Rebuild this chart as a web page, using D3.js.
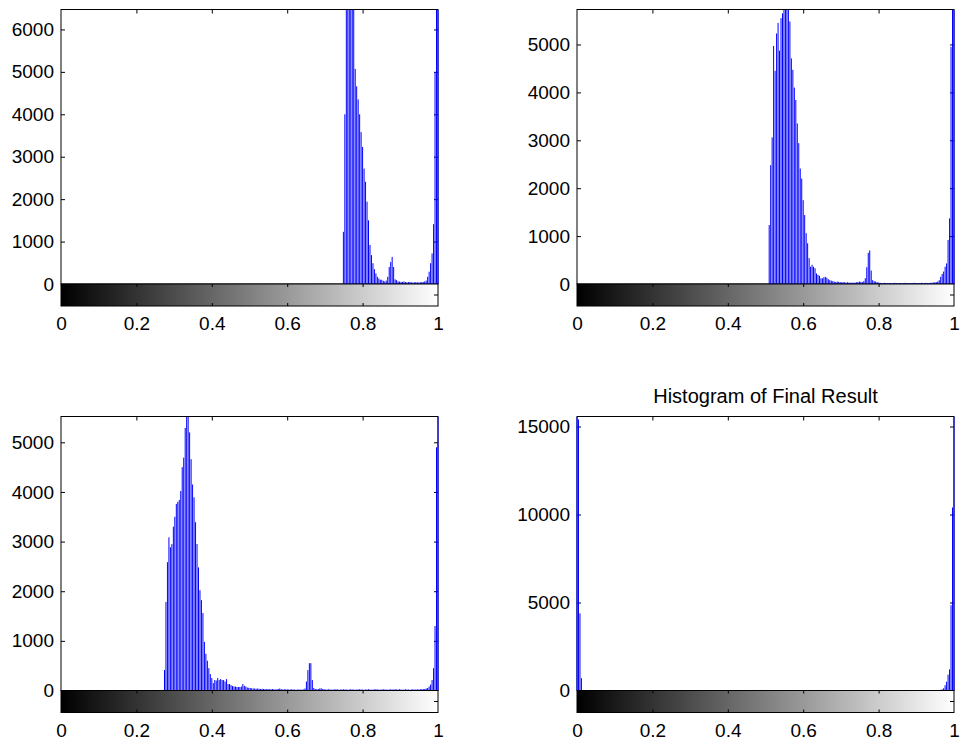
<!DOCTYPE html>
<html>
<head>
<meta charset="utf-8">
<script src="https://cdn.jsdelivr.net/npm/d3@7"></script>
<style>
  html, body { margin: 0; padding: 0; background: #fff; }
  svg { display: block; }
</style>
</head>
<body>
<div id="chart"></div>
<script>
/* Figure constants */
const WIDTH = 961
const HEIGHT = 744
const AX_W = 377
const CB_H = 22
const FONT = "'Liberation Sans', Arial, Helvetica, sans-serif"
const FONT_SIZE = 19
const TITLE_SIZE = 20
const STEM_COLOR = "#0000ff"

/* Histogram counts (256 bins over 0..1), only non-empty bins are listed */
const xTickValues = [0, 0.2, 0.4, 0.6, 0.8, 1]
const xTickLabels = ["0", "0.2", "0.4", "0.6", "0.8", "1"]

// top left
const startA = 191
const countsA = [1230, 4000, 7000, 8200, 7800, 7400, 6900, 6600, 5070, 4660,
  4350, 4000, 3580, 3230, 2720, 2410, 1940, 1500, 920, 680,
  490, 350, 250, 170, 130, 100, 100, 75, 60, 80,
  170, 400, 520, 640, 400, 110, 90, 60, 55, 50,
  50, 60, 45, 40, 45, 50, 40, 35, 40, 45,
  40, 35, 40, 45, 50, 60, 80, 170, 290, 490,
  720, 1410, 5000, 6800, 9000]
const yTicksA = [0, 1000, 2000, 3000, 4000, 5000, 6000]
const yMaxA = 6470

// top right
const startB = 130
const countsB = [1230, 2480, 3060, 4970, 4450, 5230, 5450, 4870, 5550, 5650,
  5800, 5900, 5800, 5750, 5480, 4710, 4470, 4100, 3840, 3350,
  2940, 2410, 2200, 1750, 1440, 1060, 850, 540, 360, 400,
  360, 330, 220, 190, 170, 120, 120, 140, 150, 130,
  100, 80, 70, 60, 50, 40, 50, 45, 40, 35,
  40, 35, 30, 35, 30, 25, 30, 25, 30, 35,
  40, 50, 45, 40, 60, 120, 350, 650, 700, 280,
  80, 60, 50, 40, 30, 25, 20, 20, 25, 20,
  15, 20, 20, 15, 20, 25, 20, 15, 20, 20,
  15, 20, 25, 20, 20, 15, 20, 20, 25, 20,
  15, 20, 20, 25, 20, 20, 25, 20, 20, 25,
  25, 30, 35, 40, 50, 80, 150, 210, 260, 360,
  430, 920, 1370, 4950, 5900, 8000]
const yTicksB = [0, 1000, 2000, 3000, 4000, 5000]
const yMaxB = 5730

// bottom left
const startC = 70
const countsC = [414, 1784, 2585, 3086, 2886, 2950, 3300, 3500, 3760, 3800,
  3840, 4020, 4500, 4690, 5290, 5550, 5550, 5200, 4660, 4150,
  3890, 3390, 2950, 2480, 2020, 1820, 1560, 980, 740, 600,
  450, 330, 250, 150, 210, 200, 250, 210, 230, 210,
  210, 180, 230, 130, 130, 110, 90, 80, 80, 70,
  70, 70, 80, 130, 95, 80, 60, 55, 50, 45,
  40, 40, 35, 40, 35, 30, 35, 30, 30, 25,
  30, 25, 25, 30, 25, 20, 25, 30, 40, 25,
  20, 25, 20, 25, 20, 20, 25, 20, 20, 15,
  20, 20, 15, 20, 20, 40, 180, 410, 550, 550,
  210, 50, 30, 25, 30, 40, 45, 30, 25, 20,
  20, 25, 20, 15, 20, 20, 25, 20, 15, 20,
  20, 25, 20, 20, 15, 20, 25, 20, 20, 15,
  20, 20, 25, 20, 20, 15, 20, 20, 25, 20,
  15, 20, 20, 25, 20, 20, 15, 20, 25, 20,
  20, 15, 20, 25, 20, 20, 25, 20, 20, 25,
  20, 15, 20, 25, 20, 20, 15, 20, 25, 20,
  20, 25, 20, 25, 25,
  30, 30, 40, 50, 80, 120, 210, 450, 1300, 4900,
  5700]
const yTicksC = [0, 1000, 2000, 3000, 4000, 5000]
const yMaxC = 5520

// bottom right (two occupied ranges)
const startDLow = 0
const countsDLow = [15570, 15400, 4380, 700]
const startDHigh = 244
const countsDHigh = [20, 30, 40, 60, 130, 300, 500, 900, 1200, 4850, 10400, 15570]
const yTicksD = [0, 5000, 10000, 15000]
const yMaxD = 15570
const titleD = "Histogram of Final Result"

/* Panel layout */
const panels = [
  {left: 61, top: 9.5, zero: 284, yMax: yMaxA, yTicks: yTicksA, segs: [[startA, countsA]]},
  {left: 577, top: 9.5, zero: 284, yMax: yMaxB, yTicks: yTicksB, segs: [[startB, countsB]]},
  {left: 61, top: 416.5, zero: 690.5, yMax: yMaxC, yTicks: yTicksC, segs: [[startC, countsC]]},
  {left: 577, top: 416.5, zero: 690.5, yMax: yMaxD, yTicks: yTicksD,
   segs: [[startDLow, countsDLow], [startDHigh, countsDHigh]], title: titleD}
]

const svg = d3.select("#chart")
  .append("svg")
  .attr("width", WIDTH)
  .attr("height", HEIGHT)
  .style("font-family", FONT)

const defs = svg.append("defs")
const grad = defs.append("linearGradient").attr("id", "grayramp")
  .attr("x1", "0%").attr("x2", "100%").attr("y1", "0%").attr("y2", "0%")
grad.append("stop").attr("offset", "0%").attr("stop-color", "#000")
grad.append("stop").attr("offset", "100%").attr("stop-color", "#fff")

const styleAxis = (g, showText) => {
  g.select(".domain").remove()
  g.selectAll(".tick line").attr("stroke", "#000").attr("stroke-width", 1)
  g.selectAll(".tick text")
    .attr("fill", "#000")
    .style("font-family", FONT)
    .style("font-size", FONT_SIZE + "px")
  if (!showText) g.selectAll(".tick text").remove()
}

panels.forEach((p, idx) => {
  const x = d3.scaleLinear().domain([0, 1]).range([p.left, p.left + AX_W])
  const y = d3.scaleLinear().domain([0, p.yMax]).range([p.zero, p.top])
  const g = svg.append("g")

  // frame of the histogram axes
  g.append("rect")
    .attr("x", p.left).attr("y", p.top)
    .attr("width", AX_W).attr("height", p.zero - p.top)
    .attr("fill", "#fff").attr("stroke", "#000").attr("stroke-width", 1)

  // y ticks (left, labelled) and mirrored ticks on the right
  const yAxis = g.append("g")
    .attr("transform", "translate(" + p.left + ",0)")
    .call(d3.axisLeft(y).tickValues(p.yTicks).tickSize(-4).tickPadding(7).tickFormat(d3.format("d")))
  styleAxis(yAxis, true)
  yAxis.selectAll(".tick line").filter((d) => d === 0).remove()

  const yAxisR = g.append("g")
    .attr("transform", "translate(" + (p.left + AX_W) + ",0)")
    .call(d3.axisRight(y).tickValues(p.yTicks.filter((d) => d > 0)).tickSize(-4))
  styleAxis(yAxisR, false)

  // x ticks on the top edge
  const xTop = g.append("g")
    .attr("transform", "translate(0," + p.top + ")")
    .call(d3.axisTop(x).tickValues(xTickValues.slice(1, -1)).tickSize(-4))
  styleAxis(xTop, false)

  // stems
  const clipId = "clip" + idx
  defs.append("clipPath").attr("id", clipId)
    .append("rect")
    .attr("x", p.left - 1).attr("y", p.top + 0.5)
    .attr("width", AX_W + 2).attr("height", p.zero - p.top - 0.5)

  const stems = []
  p.segs.forEach(([start, counts]) => {
    counts.forEach((c, k) => stems.push({bin: start + k, count: c}))
  })
  g.append("g")
    .attr("clip-path", "url(#" + clipId + ")")
    .selectAll("line")
    .data(stems)
    .enter()
    .append("line")
    .attr("x1", (d) => x(d.bin / 255))
    .attr("x2", (d) => x(d.bin / 255))
    .attr("y1", y(0))
    .attr("y2", (d) => y(d.count))
    .attr("stroke", STEM_COLOR)
    .attr("stroke-width", 1)

  // colorbar under the axes
  const cbTop = p.zero
  const cbBottom = p.zero + CB_H
  g.append("rect")
    .attr("x", p.left).attr("y", cbTop)
    .attr("width", AX_W).attr("height", CB_H)
    .attr("fill", "url(#grayramp)")
    .attr("stroke", "#000").attr("stroke-width", 1)

  const cbTopTicks = g.append("g")
    .attr("transform", "translate(0," + cbTop + ")")
    .call(d3.axisTop(x).tickValues(xTickValues.slice(1, -1)).tickSize(-3))
  styleAxis(cbTopTicks, false)

  const xAxis = g.append("g")
    .attr("transform", "translate(0," + cbBottom + ")")
    .call(d3.axisBottom(x).tickValues(xTickValues).tickSize(-3).tickPadding(11)
      .tickFormat((d, i) => xTickLabels[i]))
  styleAxis(xAxis, true)
  xAxis.selectAll(".tick line").filter((d) => d === 0 || d === 1).remove()

  // small mid-height ticks on the colorbar sides
  const cbMid = (cbTop + cbBottom) / 2
  g.append("line")
    .attr("x1", p.left + AX_W - 4).attr("x2", p.left + AX_W)
    .attr("y1", cbMid).attr("y2", cbMid)
    .attr("stroke", "#000")
  g.append("line")
    .attr("x1", p.left).attr("x2", p.left + 4)
    .attr("y1", cbMid).attr("y2", cbMid)
    .attr("stroke", "#000")

  if (p.title) {
    g.append("text")
      .attr("x", p.left + AX_W / 2)
      .attr("y", p.top - 14)
      .attr("text-anchor", "middle")
      .style("font-size", TITLE_SIZE + "px")
      .attr("fill", "#000")
      .text(p.title)
  }
})
</script>
</body>
</html>
